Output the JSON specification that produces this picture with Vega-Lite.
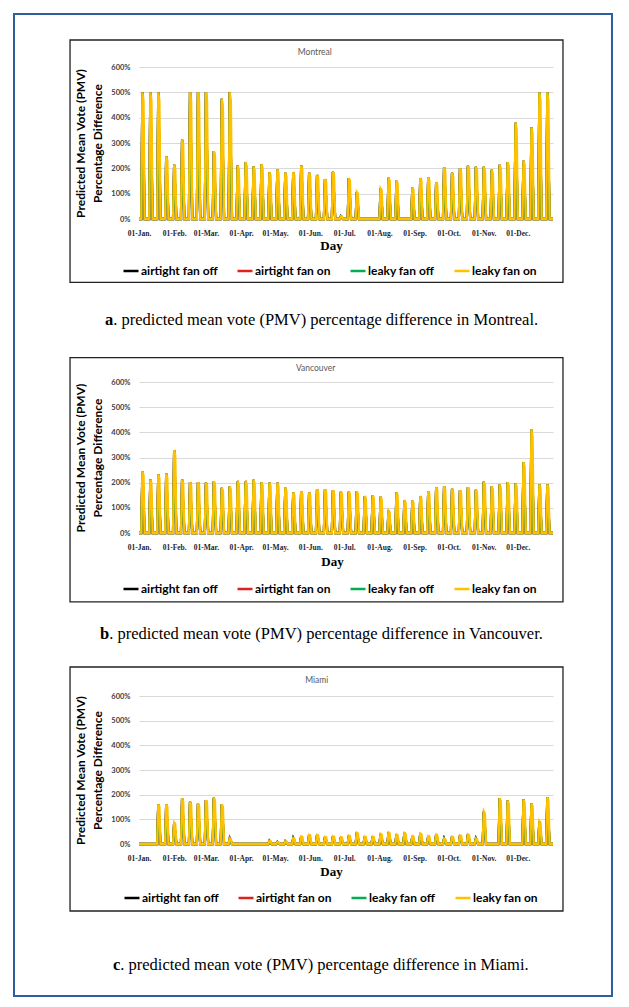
{
"$schema": "https://vega.github.io/schema/vega-lite/v6.json",
"background": "white",
"padding": {"left": 13, "top": 13, "right": 10, "bottom": 10},
"bounds": "flush",
"spacing": 163,
"config": {"view": {"stroke": null}, "axis": {"labelOverlap": false, "labelBound": false}},
"resolve": {"scale": {"color": "independent"}, "legend": {"color": "independent"}},
"datasets": {
"mon": [{"d":0,"p":0,"q":0},
{"d":2,"p":0,"q":0},{"d":3,"p":500,"q":500},{"d":4,"p":465,"q":250},{"d":5,"p":0,"q":0},
{"d":9,"p":0,"q":0},{"d":10,"p":500,"q":500},{"d":11,"p":465,"q":250},{"d":12,"p":0,"q":0},
{"d":16,"p":0,"q":0},{"d":17,"p":500,"q":500},{"d":18,"p":465,"q":250},{"d":19,"p":0,"q":0},
{"d":23,"p":0,"q":0},{"d":24,"p":248,"q":248},{"d":25,"p":231,"q":124},{"d":26,"p":0,"q":0},
{"d":30,"p":0,"q":0},{"d":31,"p":214,"q":214},{"d":32,"p":199,"q":107},{"d":33,"p":0,"q":0},
{"d":37,"p":0,"q":0},{"d":38,"p":313,"q":313},{"d":39,"p":291,"q":157},{"d":40,"p":0,"q":0},
{"d":44,"p":0,"q":0},{"d":45,"p":500,"q":500},{"d":46,"p":465,"q":250},{"d":47,"p":0,"q":0},
{"d":51,"p":0,"q":0},{"d":52,"p":500,"q":500},{"d":53,"p":465,"q":250},{"d":54,"p":0,"q":0},
{"d":58,"p":0,"q":0},{"d":59,"p":500,"q":500},{"d":60,"p":465,"q":250},{"d":61,"p":0,"q":0},
{"d":65,"p":0,"q":0},{"d":66,"p":268,"q":268},{"d":67,"p":249,"q":134},{"d":68,"p":0,"q":0},
{"d":72,"p":0,"q":0},{"d":73,"p":475,"q":475},{"d":74,"p":442,"q":238},{"d":75,"p":0,"q":0},
{"d":79,"p":0,"q":0},{"d":80,"p":500,"q":500},{"d":81,"p":465,"q":250},{"d":82,"p":0,"q":0},
{"d":86,"p":0,"q":0},{"d":87,"p":211,"q":211},{"d":88,"p":196,"q":106},{"d":89,"p":0,"q":0},
{"d":93,"p":0,"q":0},{"d":94,"p":225,"q":225},{"d":95,"p":209,"q":113},{"d":96,"p":0,"q":0},
{"d":100,"p":0,"q":0},{"d":101,"p":207,"q":207},{"d":102,"p":193,"q":104},{"d":103,"p":0,"q":0},
{"d":107,"p":0,"q":0},{"d":108,"p":217,"q":217},{"d":109,"p":202,"q":109},{"d":110,"p":0,"q":0},
{"d":114,"p":0,"q":0},{"d":115,"p":185,"q":185},{"d":116,"p":172,"q":93},{"d":117,"p":0,"q":0},
{"d":121,"p":0,"q":0},{"d":122,"p":196,"q":196},{"d":123,"p":182,"q":98},{"d":124,"p":0,"q":0},
{"d":128,"p":0,"q":0},{"d":129,"p":182,"q":182},{"d":130,"p":169,"q":91},{"d":131,"p":0,"q":0},
{"d":135,"p":0,"q":0},{"d":136,"p":185,"q":185},{"d":137,"p":172,"q":93},{"d":138,"p":0,"q":0},
{"d":142,"p":0,"q":0},{"d":143,"p":211,"q":211},{"d":144,"p":196,"q":106},{"d":145,"p":0,"q":0},
{"d":149,"p":0,"q":0},{"d":150,"p":182,"q":182},{"d":151,"p":169,"q":91},{"d":152,"p":0,"q":0},
{"d":156,"p":0,"q":0},{"d":157,"p":174,"q":174},{"d":158,"p":162,"q":87},{"d":159,"p":0,"q":0},
{"d":163,"p":0,"q":0},{"d":164,"p":158,"q":158},{"d":165,"p":147,"q":79},{"d":166,"p":0,"q":0},
{"d":170,"p":0,"q":0},{"d":171,"p":186,"q":186},{"d":172,"p":173,"q":93},{"d":173,"p":0,"q":0},
{"d":177,"p":0,"q":0},{"d":178,"p":11,"q":11},{"d":179,"p":10,"q":6},{"d":180,"p":0,"q":0},
{"d":184,"p":0,"q":0},{"d":185,"p":162,"q":162},{"d":186,"p":151,"q":81},{"d":187,"p":0,"q":0},
{"d":191,"p":0,"q":0},{"d":192,"p":106,"q":106},{"d":193,"p":99,"q":53},{"d":194,"p":0,"q":0},
{"d":212,"p":0,"q":0},{"d":213,"p":120,"q":120},{"d":214,"p":112,"q":60},{"d":215,"p":0,"q":0},
{"d":219,"p":0,"q":0},{"d":220,"p":163,"q":163},{"d":221,"p":152,"q":82},{"d":222,"p":0,"q":0},
{"d":226,"p":0,"q":0},{"d":227,"p":151,"q":151},{"d":228,"p":140,"q":76},{"d":229,"p":0,"q":0},
{"d":240,"p":0,"q":0},{"d":241,"p":123,"q":123},{"d":242,"p":114,"q":62},{"d":243,"p":0,"q":0},
{"d":247,"p":0,"q":0},{"d":248,"p":162,"q":162},{"d":249,"p":151,"q":81},{"d":250,"p":0,"q":0},
{"d":254,"p":0,"q":0},{"d":255,"p":165,"q":165},{"d":256,"p":153,"q":83},{"d":257,"p":0,"q":0},
{"d":261,"p":0,"q":0},{"d":262,"p":145,"q":145},{"d":263,"p":135,"q":73},{"d":264,"p":0,"q":0},
{"d":268,"p":0,"q":0},{"d":269,"p":204,"q":204},{"d":270,"p":190,"q":102},{"d":271,"p":0,"q":0},
{"d":275,"p":0,"q":0},{"d":276,"p":182,"q":182},{"d":277,"p":169,"q":91},{"d":278,"p":0,"q":0},
{"d":282,"p":0,"q":0},{"d":283,"p":200,"q":200},{"d":284,"p":186,"q":100},{"d":285,"p":0,"q":0},
{"d":289,"p":0,"q":0},{"d":290,"p":210,"q":210},{"d":291,"p":195,"q":105},{"d":292,"p":0,"q":0},
{"d":296,"p":0,"q":0},{"d":297,"p":206,"q":206},{"d":298,"p":192,"q":103},{"d":299,"p":0,"q":0},
{"d":303,"p":0,"q":0},{"d":304,"p":206,"q":206},{"d":305,"p":192,"q":103},{"d":306,"p":0,"q":0},
{"d":310,"p":0,"q":0},{"d":311,"p":194,"q":194},{"d":312,"p":180,"q":97},{"d":313,"p":0,"q":0},
{"d":317,"p":0,"q":0},{"d":318,"p":214,"q":214},{"d":319,"p":199,"q":107},{"d":320,"p":0,"q":0},
{"d":324,"p":0,"q":0},{"d":325,"p":225,"q":225},{"d":326,"p":209,"q":113},{"d":327,"p":0,"q":0},
{"d":331,"p":0,"q":0},{"d":332,"p":380,"q":380},{"d":333,"p":353,"q":190},{"d":334,"p":0,"q":0},
{"d":338,"p":0,"q":0},{"d":339,"p":230,"q":230},{"d":340,"p":214,"q":115},{"d":341,"p":0,"q":0},
{"d":345,"p":0,"q":0},{"d":346,"p":361,"q":361},{"d":347,"p":336,"q":181},{"d":348,"p":0,"q":0},
{"d":352,"p":0,"q":0},{"d":353,"p":500,"q":500},{"d":354,"p":465,"q":250},{"d":355,"p":0,"q":0},
{"d":359,"p":0,"q":0},{"d":360,"p":500,"q":500},{"d":361,"p":465,"q":250},{"d":362,"p":0,"q":0},
{"d":365,"p":0,"q":0}],
"van": [{"d":0,"p":0,"q":0},
{"d":2,"p":0,"q":0},{"d":3,"p":246,"q":246},{"d":4,"p":229,"q":123},{"d":5,"p":0,"q":0},
{"d":9,"p":0,"q":0},{"d":10,"p":212,"q":212},{"d":11,"p":197,"q":106},{"d":12,"p":0,"q":0},
{"d":16,"p":0,"q":0},{"d":17,"p":233,"q":233},{"d":18,"p":217,"q":117},{"d":19,"p":0,"q":0},
{"d":23,"p":0,"q":0},{"d":24,"p":236,"q":236},{"d":25,"p":219,"q":118},{"d":26,"p":0,"q":0},
{"d":30,"p":0,"q":0},{"d":31,"p":330,"q":330},{"d":32,"p":307,"q":165},{"d":33,"p":0,"q":0},
{"d":37,"p":0,"q":0},{"d":38,"p":212,"q":212},{"d":39,"p":197,"q":106},{"d":40,"p":0,"q":0},
{"d":44,"p":0,"q":0},{"d":45,"p":202,"q":202},{"d":46,"p":188,"q":101},{"d":47,"p":0,"q":0},
{"d":51,"p":0,"q":0},{"d":52,"p":202,"q":202},{"d":53,"p":188,"q":101},{"d":54,"p":0,"q":0},
{"d":58,"p":0,"q":0},{"d":59,"p":200,"q":200},{"d":60,"p":186,"q":100},{"d":61,"p":0,"q":0},
{"d":65,"p":0,"q":0},{"d":66,"p":206,"q":206},{"d":67,"p":192,"q":103},{"d":68,"p":0,"q":0},
{"d":72,"p":0,"q":0},{"d":73,"p":180,"q":180},{"d":74,"p":167,"q":90},{"d":75,"p":0,"q":0},
{"d":79,"p":0,"q":0},{"d":80,"p":185,"q":185},{"d":81,"p":172,"q":93},{"d":82,"p":0,"q":0},
{"d":86,"p":0,"q":0},{"d":87,"p":207,"q":207},{"d":88,"p":193,"q":104},{"d":89,"p":0,"q":0},
{"d":93,"p":0,"q":0},{"d":94,"p":207,"q":207},{"d":95,"p":193,"q":104},{"d":96,"p":0,"q":0},
{"d":100,"p":0,"q":0},{"d":101,"p":211,"q":211},{"d":102,"p":196,"q":106},{"d":103,"p":0,"q":0},
{"d":107,"p":0,"q":0},{"d":108,"p":202,"q":202},{"d":109,"p":188,"q":101},{"d":110,"p":0,"q":0},
{"d":114,"p":0,"q":0},{"d":115,"p":200,"q":200},{"d":116,"p":186,"q":100},{"d":117,"p":0,"q":0},
{"d":121,"p":0,"q":0},{"d":122,"p":200,"q":200},{"d":123,"p":186,"q":100},{"d":124,"p":0,"q":0},
{"d":128,"p":0,"q":0},{"d":129,"p":180,"q":180},{"d":130,"p":167,"q":90},{"d":131,"p":0,"q":0},
{"d":135,"p":0,"q":0},{"d":136,"p":161,"q":161},{"d":137,"p":150,"q":81},{"d":138,"p":0,"q":0},
{"d":142,"p":0,"q":0},{"d":143,"p":166,"q":166},{"d":144,"p":154,"q":83},{"d":145,"p":0,"q":0},
{"d":149,"p":0,"q":0},{"d":150,"p":161,"q":161},{"d":151,"p":150,"q":81},{"d":152,"p":0,"q":0},
{"d":156,"p":0,"q":0},{"d":157,"p":174,"q":174},{"d":158,"p":162,"q":87},{"d":159,"p":0,"q":0},
{"d":163,"p":0,"q":0},{"d":164,"p":174,"q":174},{"d":165,"p":162,"q":87},{"d":166,"p":0,"q":0},
{"d":170,"p":0,"q":0},{"d":171,"p":170,"q":170},{"d":172,"p":158,"q":85},{"d":173,"p":0,"q":0},
{"d":177,"p":0,"q":0},{"d":178,"p":164,"q":164},{"d":179,"p":153,"q":82},{"d":180,"p":0,"q":0},
{"d":184,"p":0,"q":0},{"d":185,"p":164,"q":164},{"d":186,"p":153,"q":82},{"d":187,"p":0,"q":0},
{"d":191,"p":0,"q":0},{"d":192,"p":166,"q":166},{"d":193,"p":154,"q":83},{"d":194,"p":0,"q":0},
{"d":198,"p":0,"q":0},{"d":199,"p":147,"q":147},{"d":200,"p":137,"q":74},{"d":201,"p":0,"q":0},
{"d":205,"p":0,"q":0},{"d":206,"p":149,"q":149},{"d":207,"p":139,"q":75},{"d":208,"p":0,"q":0},
{"d":212,"p":0,"q":0},{"d":213,"p":144,"q":144},{"d":214,"p":134,"q":72},{"d":215,"p":0,"q":0},
{"d":219,"p":0,"q":0},{"d":220,"p":89,"q":89},{"d":221,"p":83,"q":45},{"d":222,"p":0,"q":0},
{"d":226,"p":0,"q":0},{"d":227,"p":161,"q":161},{"d":228,"p":150,"q":81},{"d":229,"p":0,"q":0},
{"d":233,"p":0,"q":0},{"d":234,"p":131,"q":131},{"d":235,"p":122,"q":66},{"d":236,"p":0,"q":0},
{"d":240,"p":0,"q":0},{"d":241,"p":128,"q":128},{"d":242,"p":119,"q":64},{"d":243,"p":0,"q":0},
{"d":247,"p":0,"q":0},{"d":248,"p":147,"q":147},{"d":249,"p":137,"q":74},{"d":250,"p":0,"q":0},
{"d":254,"p":0,"q":0},{"d":255,"p":166,"q":166},{"d":256,"p":154,"q":83},{"d":257,"p":0,"q":0},
{"d":261,"p":0,"q":0},{"d":262,"p":182,"q":182},{"d":263,"p":169,"q":91},{"d":264,"p":0,"q":0},
{"d":268,"p":0,"q":0},{"d":269,"p":186,"q":186},{"d":270,"p":173,"q":93},{"d":271,"p":0,"q":0},
{"d":275,"p":0,"q":0},{"d":276,"p":176,"q":176},{"d":277,"p":164,"q":88},{"d":278,"p":0,"q":0},
{"d":282,"p":0,"q":0},{"d":283,"p":170,"q":170},{"d":284,"p":158,"q":85},{"d":285,"p":0,"q":0},
{"d":289,"p":0,"q":0},{"d":290,"p":182,"q":182},{"d":291,"p":169,"q":91},{"d":292,"p":0,"q":0},
{"d":296,"p":0,"q":0},{"d":297,"p":172,"q":172},{"d":298,"p":160,"q":86},{"d":299,"p":0,"q":0},
{"d":303,"p":0,"q":0},{"d":304,"p":204,"q":204},{"d":305,"p":190,"q":102},{"d":306,"p":0,"q":0},
{"d":310,"p":0,"q":0},{"d":311,"p":185,"q":185},{"d":312,"p":172,"q":93},{"d":313,"p":0,"q":0},
{"d":317,"p":0,"q":0},{"d":318,"p":193,"q":193},{"d":319,"p":179,"q":97},{"d":320,"p":0,"q":0},
{"d":324,"p":0,"q":0},{"d":325,"p":202,"q":202},{"d":326,"p":188,"q":101},{"d":327,"p":0,"q":0},
{"d":331,"p":0,"q":0},{"d":332,"p":197,"q":197},{"d":333,"p":183,"q":99},{"d":334,"p":0,"q":0},
{"d":338,"p":0,"q":0},{"d":339,"p":282,"q":282},{"d":340,"p":262,"q":141},{"d":341,"p":0,"q":0},
{"d":345,"p":0,"q":0},{"d":346,"p":410,"q":410},{"d":347,"p":381,"q":205},{"d":348,"p":0,"q":0},
{"d":352,"p":0,"q":0},{"d":353,"p":193,"q":193},{"d":354,"p":179,"q":97},{"d":355,"p":0,"q":0},
{"d":359,"p":0,"q":0},{"d":360,"p":193,"q":193},{"d":361,"p":179,"q":97},{"d":362,"p":0,"q":0},
{"d":365,"p":0,"q":0}],
"mia": [{"d":0,"p":0,"q":0},
{"d":16,"p":0,"q":0},{"d":17,"p":161,"q":161},{"d":18,"p":150,"q":81},{"d":19,"p":0,"q":0},
{"d":23,"p":0,"q":0},{"d":24,"p":161,"q":161},{"d":25,"p":150,"q":81},{"d":26,"p":0,"q":0},
{"d":30,"p":0,"q":0},{"d":31,"p":86,"q":86},{"d":32,"p":80,"q":43},{"d":33,"p":0,"q":0},
{"d":37,"p":0,"q":0},{"d":38,"p":185,"q":185},{"d":39,"p":172,"q":93},{"d":40,"p":0,"q":0},
{"d":44,"p":0,"q":0},{"d":45,"p":171,"q":171},{"d":46,"p":159,"q":86},{"d":47,"p":0,"q":0},
{"d":51,"p":0,"q":0},{"d":52,"p":163,"q":163},{"d":53,"p":152,"q":82},{"d":54,"p":0,"q":0},
{"d":58,"p":0,"q":0},{"d":59,"p":178,"q":178},{"d":60,"p":166,"q":89},{"d":61,"p":0,"q":0},
{"d":65,"p":0,"q":0},{"d":66,"p":187,"q":187},{"d":67,"p":174,"q":94},{"d":68,"p":0,"q":0},
{"d":72,"p":0,"q":0},{"d":73,"p":161,"q":161},{"d":74,"p":150,"q":81},{"d":75,"p":0,"q":0},
{"d":79,"p":0,"q":0},{"d":80,"p":23,"q":23},{"d":81,"p":21,"q":12},{"d":82,"p":0,"q":0},
{"d":114,"p":0,"q":0},{"d":115,"p":13,"q":13},{"d":116,"p":12,"q":7},{"d":117,"p":0,"q":0},
{"d":121,"p":0,"q":0},{"d":122,"p":8,"q":8},{"d":123,"p":7,"q":4},{"d":124,"p":0,"q":0},
{"d":128,"p":0,"q":0},{"d":129,"p":11,"q":11},{"d":130,"p":10,"q":6},{"d":131,"p":0,"q":0},
{"d":135,"p":0,"q":0},{"d":136,"p":23,"q":23},{"d":137,"p":21,"q":12},{"d":138,"p":0,"q":0},
{"d":142,"p":0,"q":0},{"d":143,"p":31,"q":31},{"d":144,"p":29,"q":16},{"d":145,"p":0,"q":0},
{"d":149,"p":0,"q":0},{"d":150,"p":37,"q":37},{"d":151,"p":34,"q":19},{"d":152,"p":0,"q":0},
{"d":156,"p":0,"q":0},{"d":157,"p":37,"q":37},{"d":158,"p":34,"q":19},{"d":159,"p":0,"q":0},
{"d":163,"p":0,"q":0},{"d":164,"p":29,"q":29},{"d":165,"p":27,"q":15},{"d":166,"p":0,"q":0},
{"d":170,"p":0,"q":0},{"d":171,"p":31,"q":31},{"d":172,"p":29,"q":16},{"d":173,"p":0,"q":0},
{"d":177,"p":0,"q":0},{"d":178,"p":28,"q":28},{"d":179,"p":26,"q":14},{"d":180,"p":0,"q":0},
{"d":184,"p":0,"q":0},{"d":185,"p":34,"q":34},{"d":186,"p":32,"q":17},{"d":187,"p":0,"q":0},
{"d":191,"p":0,"q":0},{"d":192,"p":46,"q":46},{"d":193,"p":43,"q":23},{"d":194,"p":0,"q":0},
{"d":198,"p":0,"q":0},{"d":199,"p":30,"q":30},{"d":200,"p":28,"q":15},{"d":201,"p":0,"q":0},
{"d":205,"p":0,"q":0},{"d":206,"p":30,"q":30},{"d":207,"p":28,"q":15},{"d":208,"p":0,"q":0},
{"d":212,"p":0,"q":0},{"d":213,"p":41,"q":41},{"d":214,"p":38,"q":21},{"d":215,"p":0,"q":0},
{"d":219,"p":0,"q":0},{"d":220,"p":47,"q":47},{"d":221,"p":44,"q":24},{"d":222,"p":0,"q":0},
{"d":226,"p":0,"q":0},{"d":227,"p":38,"q":38},{"d":228,"p":35,"q":19},{"d":229,"p":0,"q":0},
{"d":233,"p":0,"q":0},{"d":234,"p":45,"q":45},{"d":235,"p":42,"q":23},{"d":236,"p":0,"q":0},
{"d":240,"p":0,"q":0},{"d":241,"p":32,"q":32},{"d":242,"p":30,"q":16},{"d":243,"p":0,"q":0},
{"d":247,"p":0,"q":0},{"d":248,"p":43,"q":43},{"d":249,"p":40,"q":22},{"d":250,"p":0,"q":0},
{"d":254,"p":0,"q":0},{"d":255,"p":32,"q":32},{"d":256,"p":30,"q":16},{"d":257,"p":0,"q":0},
{"d":261,"p":0,"q":0},{"d":262,"p":39,"q":39},{"d":263,"p":36,"q":20},{"d":264,"p":0,"q":0},
{"d":268,"p":0,"q":0},{"d":269,"p":22,"q":22},{"d":270,"p":20,"q":11},{"d":271,"p":0,"q":0},
{"d":275,"p":0,"q":0},{"d":276,"p":30,"q":30},{"d":277,"p":28,"q":15},{"d":278,"p":0,"q":0},
{"d":282,"p":0,"q":0},{"d":283,"p":35,"q":35},{"d":284,"p":33,"q":18},{"d":285,"p":0,"q":0},
{"d":289,"p":0,"q":0},{"d":290,"p":39,"q":39},{"d":291,"p":36,"q":20},{"d":292,"p":0,"q":0},
{"d":296,"p":0,"q":0},{"d":297,"p":22,"q":22},{"d":298,"p":20,"q":11},{"d":299,"p":0,"q":0},
{"d":303,"p":0,"q":0},{"d":304,"p":132,"q":132},{"d":305,"p":123,"q":66},{"d":306,"p":0,"q":0},
{"d":317,"p":0,"q":0},{"d":318,"p":186,"q":186},{"d":319,"p":173,"q":93},{"d":320,"p":0,"q":0},
{"d":324,"p":0,"q":0},{"d":325,"p":176,"q":176},{"d":326,"p":164,"q":88},{"d":327,"p":0,"q":0},
{"d":338,"p":0,"q":0},{"d":339,"p":180,"q":180},{"d":340,"p":167,"q":90},{"d":341,"p":0,"q":0},
{"d":345,"p":0,"q":0},{"d":346,"p":164,"q":164},{"d":347,"p":153,"q":82},{"d":348,"p":0,"q":0},
{"d":352,"p":0,"q":0},{"d":353,"p":92,"q":92},{"d":354,"p":86,"q":46},{"d":355,"p":0,"q":0},
{"d":359,"p":0,"q":0},{"d":360,"p":189,"q":189},{"d":361,"p":176,"q":95},{"d":362,"p":0,"q":0},
{"d":365,"p":0,"q":0}]
},
"vconcat": [
{
"width": 414, "height": 152,
"layer": [
{"data": {"values": [{}]}, "mark": {"type": "rect", "filled": false, "stroke": "#2e5e9e", "strokeWidth": 2, "clip": false},
 "encoding": {"x": {"datum": -110.2, "type": "quantitative"}, "x2": {"datum": 417}, "y": {"datum": 809.2, "type": "quantitative"}, "y2": {"datum": -3067}}},
{"data": {"values": [{}]}, "mark": {"type": "rect", "filled": false, "stroke": "#222222", "strokeWidth": 1.3, "clip": false},
 "encoding": {"x": {"datum": -60.8, "type": "quantitative"}, "x2": {"datum": 373.8}, "y": {"datum": 706.6, "type": "quantitative"}, "y2": {"datum": -250}}},
{"data": {"name": "mon"}, "mark": {"type": "line", "strokeWidth": 2.3},
 "encoding": {
  "x": {"field": "d", "type": "quantitative", "scale": {"domain": [0, 365], "nice": false, "zero": false},
   "axis": {"values": [0,31,59,90,120,151,181,212,243,273,304,334], "tickCount": 20, "labelExpr": "['01-Jan.','01-Feb.','01-Mar.','01-Apr.','01-May.','01-Jun.','01-Jul.','01-Aug.','01-Sep.','01-Oct.','01-Nov.','01-Dec.'][indexof([0,31,59,90,120,151,181,212,243,273,304,334], datum.value)]", "labelOverlap": false, "labelFlush": false, "labelFont": "Liberation Serif", "labelFontSize": 7.5, "labelFontWeight": "bold", "labelColor": "#262626", "labelPadding": 10, "ticks": false, "tickSize": 0, "domain": false, "grid": false, "title": "Day", "titleFont": "Liberation Serif", "titleFontSize": 13, "titleFontWeight": "bold", "titleColor": "#000000", "titleX": 192, "titleY": 26, "titleBaseline": "middle", "titleAlign": "center"}},
  "y": {"field": "q", "type": "quantitative", "scale": {"domain": [0, 600], "nice": false},
   "axis": {"values": [0,100,200,300,400,500,600], "tickCount": 10, "labelExpr": "datum.value + '%'", "labelOverlap": false, "labelFont": "Lato", "labelFontSize": 7.5, "labelFontWeight": "bold", "labelColor": "#404040", "labelPadding": 9, "ticks": false, "domain": false, "grid": true, "gridColor": "#d9d9d9", "gridWidth": 1, "title": ["Predicted Mean Vote (PMV)", "Percentage Difference"], "titleFont": "Lato", "titleFontSize": 12, "titleFontWeight": "bold", "titleColor": "#000000", "titleLineHeight": 17, "titlePadding": 6}},
  "color": {"datum": "airtight fan off", "type": "nominal", "scale": {"domain": ["airtight fan off", "airtight fan on", "leaky fan off", "leaky fan on"], "range": ["#000000", "#e0201f", "#00b050", "#ffc000"]},
   "legend": {"orient": "none", "legendX": -17, "legendY": 195, "direction": "horizontal", "columns": 4, "title": null, "labelFont": "Lato", "labelFontSize": 12, "labelFontWeight": "bold", "labelColor": "#000000", "symbolType": "stroke", "symbolSize": 225, "symbolStrokeWidth": 2.5, "labelOffset": 1, "columnPadding": 14}}
 }},
{"data": {"name": "mon"}, "mark": {"type": "line", "strokeWidth": 2.3},
 "encoding": {"x": {"field": "d", "type": "quantitative"}, "y": {"field": "q", "type": "quantitative"}, "color": {"datum": "airtight fan on", "type": "nominal"}}},
{"data": {"name": "mon"}, "mark": {"type": "line", "strokeWidth": 2.3},
 "encoding": {"x": {"field": "d", "type": "quantitative"}, "y": {"field": "q", "type": "quantitative"}, "color": {"datum": "leaky fan off", "type": "nominal"}}},
{"data": {"name": "mon"}, "mark": {"type": "line", "strokeWidth": 2.3},
 "encoding": {"x": {"field": "d", "type": "quantitative"}, "y": {"field": "p", "type": "quantitative"}, "color": {"datum": "leaky fan on", "type": "nominal"}}},
{"data": {"values": [{}]}, "mark": {"type": "text", "text": "Montreal", "font": "Lato", "fontSize": 8.5, "color": "#595959", "align": "center", "baseline": "middle", "clip": false},
 "encoding": {"x": {"datum": 155, "type": "quantitative"}, "y": {"datum": 660, "type": "quantitative"}}},
{"data": {"values": [{}]}, "mark": {"type": "text", "text": "a", "font": "Liberation Serif", "fontSize": 16.5, "fontWeight": "bold", "color": "#000000", "align": "left", "baseline": "middle", "clip": false},
 "encoding": {"x": {"datum": -30, "type": "quantitative"}, "y": {"datum": -399, "type": "quantitative"}}},
{"data": {"values": [{}]}, "mark": {"type": "text", "text": ". predicted mean vote (PMV) percentage difference in Montreal.", "font": "Liberation Serif", "fontSize": 16.5, "color": "#000000", "align": "left", "baseline": "middle", "clip": false},
 "encoding": {"x": {"datum": -22.7, "type": "quantitative"}, "y": {"datum": -399, "type": "quantitative"}}}
]
},
{
"width": 414, "height": 151,
"layer": [
{"data": {"values": [{}]}, "mark": {"type": "rect", "filled": false, "stroke": "#222222", "strokeWidth": 1.3, "clip": false},
 "encoding": {"x": {"datum": -60.8, "type": "quantitative"}, "x2": {"datum": 373.8}, "y": {"datum": 696.6, "type": "quantitative"}, "y2": {"datum": -274}}},
{"data": {"name": "van"}, "mark": {"type": "line", "strokeWidth": 2.3},
 "encoding": {
  "x": {"field": "d", "type": "quantitative", "scale": {"domain": [0, 365], "nice": false, "zero": false},
   "axis": {"values": [0,31,59,90,120,151,181,212,243,273,304,334], "tickCount": 20, "labelExpr": "['01-Jan.','01-Feb.','01-Mar.','01-Apr.','01-May.','01-Jun.','01-Jul.','01-Aug.','01-Sep.','01-Oct.','01-Nov.','01-Dec.'][indexof([0,31,59,90,120,151,181,212,243,273,304,334], datum.value)]", "labelOverlap": false, "labelFlush": false, "labelFont": "Liberation Serif", "labelFontSize": 7.5, "labelFontWeight": "bold", "labelColor": "#262626", "labelPadding": 10, "ticks": false, "tickSize": 0, "domain": false, "grid": false, "title": "Day", "titleFont": "Liberation Serif", "titleFontSize": 13, "titleFontWeight": "bold", "titleColor": "#000000", "titleX": 193, "titleY": 28, "titleBaseline": "middle", "titleAlign": "center"}},
  "y": {"field": "q", "type": "quantitative", "scale": {"domain": [0, 600], "nice": false},
   "axis": {"values": [0,100,200,300,400,500,600], "tickCount": 10, "labelExpr": "datum.value + '%'", "labelOverlap": false, "labelFont": "Lato", "labelFontSize": 7.5, "labelFontWeight": "bold", "labelColor": "#404040", "labelPadding": 9, "ticks": false, "domain": false, "grid": true, "gridColor": "#d9d9d9", "gridWidth": 1, "title": ["Predicted Mean Vote (PMV)", "Percentage Difference"], "titleFont": "Lato", "titleFontSize": 12, "titleFontWeight": "bold", "titleColor": "#000000", "titleLineHeight": 17, "titlePadding": 6}},
  "color": {"datum": "airtight fan off", "type": "nominal", "scale": {"domain": ["airtight fan off", "airtight fan on", "leaky fan off", "leaky fan on"], "range": ["#000000", "#e0201f", "#00b050", "#ffc000"]},
   "legend": {"orient": "none", "legendX": -17, "legendY": 198, "direction": "horizontal", "columns": 4, "title": null, "labelFont": "Lato", "labelFontSize": 12, "labelFontWeight": "bold", "labelColor": "#000000", "symbolType": "stroke", "symbolSize": 225, "symbolStrokeWidth": 2.5, "labelOffset": 1, "columnPadding": 14}}
 }},
{"data": {"name": "van"}, "mark": {"type": "line", "strokeWidth": 2.3},
 "encoding": {"x": {"field": "d", "type": "quantitative"}, "y": {"field": "q", "type": "quantitative"}, "color": {"datum": "airtight fan on", "type": "nominal"}}},
{"data": {"name": "van"}, "mark": {"type": "line", "strokeWidth": 2.3},
 "encoding": {"x": {"field": "d", "type": "quantitative"}, "y": {"field": "q", "type": "quantitative"}, "color": {"datum": "leaky fan off", "type": "nominal"}}},
{"data": {"name": "van"}, "mark": {"type": "line", "strokeWidth": 2.3},
 "encoding": {"x": {"field": "d", "type": "quantitative"}, "y": {"field": "p", "type": "quantitative"}, "color": {"datum": "leaky fan on", "type": "nominal"}}},
{"data": {"values": [{}]}, "mark": {"type": "text", "text": "Vancouver", "font": "Lato", "fontSize": 8.5, "color": "#595959", "align": "center", "baseline": "middle", "clip": false},
 "encoding": {"x": {"datum": 155.8, "type": "quantitative"}, "y": {"datum": 657, "type": "quantitative"}}},
{"data": {"values": [{}]}, "mark": {"type": "text", "text": "b", "font": "Liberation Serif", "fontSize": 16.5, "fontWeight": "bold", "color": "#000000", "align": "left", "baseline": "middle", "clip": false},
 "encoding": {"x": {"datum": -34.4, "type": "quantitative"}, "y": {"datum": -401, "type": "quantitative"}}},
{"data": {"values": [{}]}, "mark": {"type": "text", "text": ". predicted mean vote (PMV) percentage difference in Vancouver.", "font": "Liberation Serif", "fontSize": 16.5, "color": "#000000", "align": "left", "baseline": "middle", "clip": false},
 "encoding": {"x": {"datum": -26.3, "type": "quantitative"}, "y": {"datum": -401, "type": "quantitative"}}}
]
},
{
"width": 414, "height": 148,
"layer": [
{"data": {"values": [{}]}, "mark": {"type": "rect", "filled": false, "stroke": "#222222", "strokeWidth": 1.3, "clip": false},
 "encoding": {"x": {"datum": -60.8, "type": "quantitative"}, "x2": {"datum": 373.8}, "y": {"datum": 717.6, "type": "quantitative"}, "y2": {"datum": -271.6}}},
{"data": {"name": "mia"}, "mark": {"type": "line", "strokeWidth": 2.3},
 "encoding": {
  "x": {"field": "d", "type": "quantitative", "scale": {"domain": [0, 365], "nice": false, "zero": false},
   "axis": {"values": [0,31,59,90,120,151,181,212,243,273,304,334], "tickCount": 20, "labelExpr": "['01-Jan.','01-Feb.','01-Mar.','01-Apr.','01-May.','01-Jun.','01-Jul.','01-Aug.','01-Sep.','01-Oct.','01-Nov.','01-Dec.'][indexof([0,31,59,90,120,151,181,212,243,273,304,334], datum.value)]", "labelOverlap": false, "labelFlush": false, "labelFont": "Liberation Serif", "labelFontSize": 7.5, "labelFontWeight": "bold", "labelColor": "#262626", "labelPadding": 10, "ticks": false, "tickSize": 0, "domain": false, "grid": false, "title": "Day", "titleFont": "Liberation Serif", "titleFontSize": 13, "titleFontWeight": "bold", "titleColor": "#000000", "titleX": 192, "titleY": 27, "titleBaseline": "middle", "titleAlign": "center"}},
  "y": {"field": "q", "type": "quantitative", "scale": {"domain": [0, 600], "nice": false},
   "axis": {"values": [0,100,200,300,400,500,600], "tickCount": 10, "labelExpr": "datum.value + '%'", "labelOverlap": false, "labelFont": "Lato", "labelFontSize": 7.5, "labelFontWeight": "bold", "labelColor": "#404040", "labelPadding": 9, "ticks": false, "domain": false, "grid": true, "gridColor": "#d9d9d9", "gridWidth": 1, "title": ["Predicted Mean Vote (PMV)", "Percentage Difference"], "titleFont": "Lato", "titleFontSize": 12, "titleFontWeight": "bold", "titleColor": "#000000", "titleLineHeight": 17, "titlePadding": 6}},
  "color": {"datum": "airtight fan off", "type": "nominal", "scale": {"domain": ["airtight fan off", "airtight fan on", "leaky fan off", "leaky fan on"], "range": ["#000000", "#e0201f", "#00b050", "#ffc000"]},
   "legend": {"orient": "none", "legendX": -16, "legendY": 193, "direction": "horizontal", "columns": 4, "title": null, "labelFont": "Lato", "labelFontSize": 12, "labelFontWeight": "bold", "labelColor": "#000000", "symbolType": "stroke", "symbolSize": 225, "symbolStrokeWidth": 2.5, "labelOffset": 1, "columnPadding": 14}}
 }},
{"data": {"name": "mia"}, "mark": {"type": "line", "strokeWidth": 2.3},
 "encoding": {"x": {"field": "d", "type": "quantitative"}, "y": {"field": "q", "type": "quantitative"}, "color": {"datum": "airtight fan on", "type": "nominal"}}},
{"data": {"name": "mia"}, "mark": {"type": "line", "strokeWidth": 2.3},
 "encoding": {"x": {"field": "d", "type": "quantitative"}, "y": {"field": "q", "type": "quantitative"}, "color": {"datum": "leaky fan off", "type": "nominal"}}},
{"data": {"name": "mia"}, "mark": {"type": "line", "strokeWidth": 2.3},
 "encoding": {"x": {"field": "d", "type": "quantitative"}, "y": {"field": "p", "type": "quantitative"}, "color": {"datum": "leaky fan on", "type": "nominal"}}},
{"data": {"values": [{}]}, "mark": {"type": "text", "text": "Miami", "font": "Lato", "fontSize": 8.5, "color": "#595959", "align": "center", "baseline": "middle", "clip": false},
 "encoding": {"x": {"datum": 156.7, "type": "quantitative"}, "y": {"datum": 665, "type": "quantitative"}}},
{"data": {"values": [{}]}, "mark": {"type": "text", "text": "c", "font": "Liberation Serif", "fontSize": 16.5, "fontWeight": "bold", "color": "#000000", "align": "left", "baseline": "middle", "clip": false},
 "encoding": {"x": {"datum": -22.9, "type": "quantitative"}, "y": {"datum": -490, "type": "quantitative"}}},
{"data": {"values": [{}]}, "mark": {"type": "text", "text": ". predicted mean vote (PMV) percentage difference in Miami.", "font": "Liberation Serif", "fontSize": 16.5, "color": "#000000", "align": "left", "baseline": "middle", "clip": false},
 "encoding": {"x": {"datum": -16.5, "type": "quantitative"}, "y": {"datum": -490, "type": "quantitative"}}}
]
}
]
}
